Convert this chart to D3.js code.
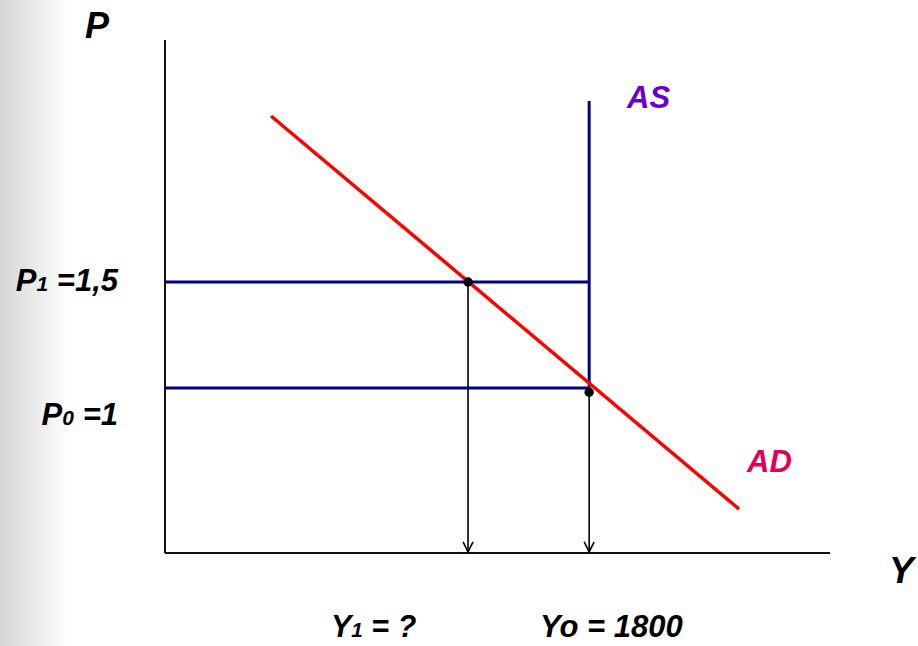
<!DOCTYPE html>
<html>
<head>
<meta charset="utf-8">
<script src="https://cdn.jsdelivr.net/npm/d3@7"></script>
<style>
html,body{margin:0;padding:0;background:#fff;}
svg{display:block;font-family:"Liberation Sans",Arial,sans-serif;}
</style>
</head>
<body>
<svg id="chart" width="918" height="646"></svg>
<script>
// Data (model units: Y = output, P = price level)
const axisY = [0, 2822];          // output axis range
const axisP = [0.222, 2.642];     // price axis range
const prices = [1, 1.5];          // P0, P1
const priceLabels = ["P0 =1", "P1 =1,5"];
const outputs = [1800, 1286];     // Yo, Y1 (estimated)
const outputLabels = ["Yo = 1800", "Y1 = ?"];
const asCurve = [[1800, 1], [1800, 2.354]];
const adCurve = [[450, 2.283], [2436, 0.429]];
const points = [[1286, 1.5], [1800, 0.98]];

const svg = d3.select("#chart");
const defs = svg.append("defs");
const grad = defs.append("linearGradient").attr("id","bg").attr("x1","0").attr("x2","1");
grad.append("stop").attr("offset","0%").attr("stop-color","#d6d6d6");
grad.append("stop").attr("offset","100%").attr("stop-color","#ffffff");
svg.append("rect").attr("x",0).attr("y",0).attr("width",70).attr("height",646).attr("fill","url(#bg)");

defs.append("marker").attr("id","arr").attr("viewBox","0 0 12 12").attr("refX",11).attr("refY",6)
  .attr("markerWidth",12).attr("markerHeight",12).attr("markerUnits","userSpaceOnUse").attr("orient","auto")
  .append("path").attr("d","M1,1 L11,6 L1,11").attr("fill","none").attr("stroke","#000").attr("stroke-width",1.6);

const x = d3.scaleLinear().domain(axisY).range([165, 830]);
const y = d3.scaleLinear().domain([1, 1.5]).range([388, 282]);

// axes
const axes = svg.append("g");
axes.append("line").attr("x1",x(0)).attr("x2",x(0)).attr("y1",y(axisP[1])).attr("y2",y(axisP[0]))
  .attr("stroke","#111").attr("stroke-width",2);
axes.append("line").attr("x1",x(0)).attr("x2",x(axisY[1])).attr("y1",y(axisP[0])).attr("y2",y(axisP[0]))
  .attr("stroke","#111").attr("stroke-width",2);

// arrows down to output axis
svg.selectAll(".drop").data(points).join("line")
  .attr("x1",d=>x(d[0])).attr("x2",d=>x(d[0])).attr("y1",d=>y(d[1])).attr("y2",y(axisP[0])-1)
  .attr("stroke","#000").attr("stroke-width",1.6).attr("marker-end","url(#arr)");

// horizontal price lines
svg.selectAll(".pl").data(prices).join("line")
  .attr("x1",x(0)).attr("x2",x(1800)).attr("y1",d=>y(d)).attr("y2",d=>y(d))
  .attr("stroke","#000080").attr("stroke-width",3);

const line = d3.line().x(d=>x(d[0])).y(d=>y(d[1]));
svg.append("path").attr("d",line(asCurve)).attr("fill","none").attr("stroke","#000080").attr("stroke-width",3);
svg.append("path").attr("d",line(adCurve)).attr("fill","none").attr("stroke","#ff0000").attr("stroke-width",3.5);

svg.selectAll(".pt").data(points).join("circle")
  .attr("cx",d=>x(d[0])).attr("cy",d=>y(d[1])).attr("r",4.7).attr("fill","#000");

// labels
const lab = (tx, ty, txt, sub, size, color, anchor) => {
  const t = svg.append("text").attr("x",tx).attr("y",ty).attr("font-size",size)
    .attr("font-weight","bold").attr("font-style","italic").attr("fill",color).attr("text-anchor",anchor||"start");
  if (sub) {
    t.append("tspan").text(txt[0]);
    t.append("tspan").attr("font-size",size*0.68).text(txt[1]);
    t.append("tspan").text(txt.slice(2));
  } else t.text(txt);
  return t;
};
lab(85, 38, "P", false, 36, "#000");
lab(889, 583, "Y", false, 37, "#000");
lab(118, 291, priceLabels[1], true, 31, "#000", "end");
lab(118, 425, priceLabels[0], true, 31, "#000", "end");
lab(627, 108, "AS", false, 31, "#6a00cc");
lab(747, 472, "AD", false, 31, "#e0005c");
lab(331, 637, outputLabels[1], true, 30.5, "#000");
lab(540, 637, outputLabels[0], false, 31, "#000");
</script>
</body>
</html>
